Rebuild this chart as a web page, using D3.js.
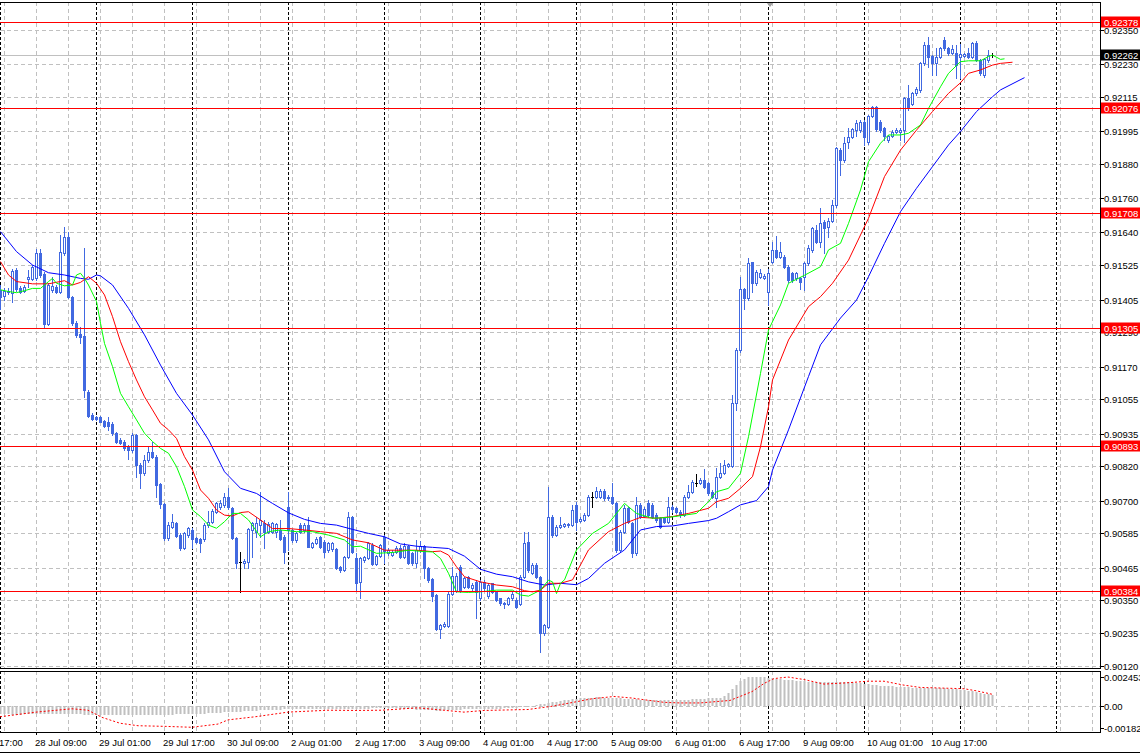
<!DOCTYPE html>
<html><head><meta charset="utf-8">
<script src="https://cdn.jsdelivr.net/npm/d3@7"></script>
<style>
body{margin:0;background:#fff}
svg{display:block}
text{font-family:"Liberation Sans",Arial,sans-serif;font-size:9.5px}
</style>
</head><body>
<svg id="chart" width="1140" height="756"></svg>
<script>
// ---------- DATA (H1 bars, index 0 = 28 Jul 00:00) ----------
const openPrices = [0.91439,0.91418,0.91436,0.91429,0.91509,0.91444,0.91435,0.91476,0.91476,0.91479,0.91569,0.91495,0.91319,0.91439,0.91450,0.91433,0.91567,0.91623,0.91413,0.91322,0.91284,0.91277,0.91082,0.91000,0.90992,0.90994,0.90980,0.90977,0.90969,0.90936,0.90913,0.90907,0.90889,0.90877,0.90930,0.90825,0.90796,0.90842,0.90872,0.90854,0.90758,0.90688,0.90568,0.90609,0.90620,0.90579,0.90533,0.90579,0.90597,0.90568,0.90564,0.90564,0.90614,0.90626,0.90661,0.90676,0.90684,0.90714,0.90673,0.90568,0.90486,0.90482,0.90486,0.90597,0.90591,0.90614,0.90622,0.90591,0.90591,0.90591,0.90597,0.90573,0.90676,0.90597,0.90562,0.90614,0.90597,0.90614,0.90538,0.90552,0.90573,0.90556,0.90526,0.90529,0.90529,0.90466,0.90456,0.90501,0.90643,0.90497,0.90415,0.90491,0.90497,0.90544,0.90476,0.90505,0.90573,0.90515,0.90509,0.90521,0.90532,0.90501,0.90540,0.90517,0.90482,0.90526,0.90540,0.90464,0.90424,0.90369,0.90248,0.90260,0.90260,0.90372,0.90384,0.90468,0.90398,0.90431,0.90392,0.90415,0.90357,0.90415,0.90365,0.90410,0.90380,0.90357,0.90339,0.90337,0.90357,0.90351,0.90339,0.90433,0.90556,0.90447,0.90474,0.90433,0.90234,0.90258,0.90643,0.90579,0.90609,0.90611,0.90613,0.90614,0.90685,0.90628,0.90632,0.90650,0.90714,0.90714,0.90714,0.90735,0.90714,0.90714,0.90693,0.90527,0.90591,0.90673,0.90620,0.90515,0.90685,0.90646,0.90690,0.90685,0.90650,0.90638,0.90638,0.90626,0.90679,0.90673,0.90661,0.90650,0.90714,0.90731,0.90763,0.90763,0.90772,0.90761,0.90731,0.90708,0.90782,0.90798,0.90821,0.90821,0.91041,0.91228,0.91441,0.91409,0.91536,0.91462,0.91483,0.91479,0.91433,0.91538,0.91577,0.91555,0.91555,0.91520,0.91499,0.91479,0.91479,0.91485,0.91532,0.91579,0.91649,0.91608,0.91678,0.91660,0.91682,0.91736,0.91929,0.91894,0.91958,0.91974,0.91999,0.91999,0.92029,0.91958,0.92048,0.92079,0.92029,0.92005,0.91964,0.91978,0.91994,0.91994,0.91999,0.92110,0.92091,0.92128,0.92140,0.92233,0.92297,0.92259,0.92233,0.92257,0.92315,0.92286,0.92271,0.92271,0.92257,0.92259,0.92268,0.92257,0.92306,0.92245,0.92192,0.92245,0.92262];
const highPrices = [0.91456,0.91444,0.91444,0.91511,0.91514,0.91453,0.91456,0.91509,0.91526,0.91581,0.91581,0.91503,0.91462,0.91485,0.91456,0.91631,0.91661,0.91643,0.91418,0.91328,0.91310,0.91585,0.91086,0.91006,0.90997,0.90997,0.90982,0.90994,0.90974,0.90942,0.90919,0.90913,0.90895,0.90936,0.90934,0.90831,0.90860,0.90889,0.90907,0.90860,0.90761,0.90690,0.90626,0.90653,0.90626,0.90585,0.90591,0.90609,0.90603,0.90574,0.90568,0.90620,0.90665,0.90670,0.90696,0.90702,0.90728,0.90743,0.90676,0.90574,0.90521,0.90495,0.90603,0.90626,0.90643,0.90731,0.90632,0.90624,0.90624,0.90622,0.90632,0.90579,0.90731,0.90602,0.90591,0.90620,0.90620,0.90643,0.90556,0.90573,0.90575,0.90562,0.90556,0.90556,0.90532,0.90471,0.90505,0.90661,0.90646,0.90515,0.90501,0.90505,0.90556,0.90550,0.90509,0.90547,0.90579,0.90532,0.90526,0.90540,0.90544,0.90550,0.90544,0.90521,0.90562,0.90559,0.90544,0.90468,0.90427,0.90372,0.90269,0.90275,0.90380,0.90468,0.90445,0.90474,0.90433,0.90435,0.90410,0.90421,0.90421,0.90421,0.90410,0.90412,0.90384,0.90360,0.90345,0.90363,0.90380,0.90357,0.90439,0.90591,0.90591,0.90480,0.90480,0.90435,0.90269,0.90749,0.90649,0.90614,0.90644,0.90623,0.90623,0.90685,0.90696,0.90641,0.90655,0.90720,0.90731,0.90749,0.90739,0.90739,0.90720,0.90761,0.90696,0.90597,0.90685,0.90679,0.90626,0.90714,0.90690,0.90679,0.90702,0.90690,0.90655,0.90644,0.90644,0.90714,0.90685,0.90679,0.90667,0.90720,0.90755,0.90772,0.90793,0.90778,0.90810,0.90766,0.90737,0.90813,0.90831,0.90842,0.90833,0.91070,0.91234,0.91485,0.91444,0.91550,0.91538,0.91509,0.91511,0.91494,0.91511,0.91608,0.91626,0.91608,0.91561,0.91526,0.91503,0.91503,0.91485,0.91538,0.91596,0.91660,0.91666,0.91725,0.91684,0.91690,0.91754,0.91941,0.91935,0.91976,0.92005,0.92005,0.92034,0.92034,0.92034,0.92052,0.92084,0.92084,0.92034,0.92011,0.91982,0.92000,0.92005,0.92005,0.92116,0.92157,0.92134,0.92151,0.92239,0.92309,0.92327,0.92262,0.92286,0.92292,0.92327,0.92292,0.92297,0.92297,0.92301,0.92271,0.92286,0.92309,0.92313,0.92247,0.92251,0.92280,0.92268];
const lowPrices = [0.91371,0.91403,0.91425,0.91398,0.91436,0.91427,0.91433,0.91450,0.91474,0.91474,0.91485,0.91304,0.91316,0.91433,0.91427,0.91427,0.91561,0.91409,0.91316,0.91275,0.91251,0.91064,0.90992,0.90982,0.90982,0.90974,0.90959,0.90948,0.90930,0.90903,0.90898,0.90877,0.90845,0.90872,0.90784,0.90743,0.90790,0.90836,0.90848,0.90714,0.90673,0.90562,0.90562,0.90603,0.90571,0.90527,0.90530,0.90574,0.90533,0.90550,0.90521,0.90560,0.90609,0.90620,0.90655,0.90669,0.90678,0.90672,0.90564,0.90462,0.90381,0.90462,0.90462,0.90503,0.90573,0.90573,0.90532,0.90585,0.90585,0.90573,0.90562,0.90480,0.90526,0.90556,0.90556,0.90585,0.90591,0.90536,0.90535,0.90547,0.90532,0.90503,0.90521,0.90523,0.90459,0.90450,0.90453,0.90497,0.90517,0.90386,0.90360,0.90486,0.90494,0.90474,0.90473,0.90503,0.90480,0.90509,0.90505,0.90515,0.90497,0.90497,0.90477,0.90474,0.90466,0.90521,0.90427,0.90415,0.90349,0.90246,0.90217,0.90255,0.90255,0.90369,0.90380,0.90380,0.90392,0.90392,0.90386,0.90287,0.90351,0.90386,0.90360,0.90377,0.90349,0.90334,0.90325,0.90334,0.90353,0.90325,0.90334,0.90427,0.90450,0.90442,0.90427,0.90170,0.90228,0.90252,0.90573,0.90576,0.90603,0.90606,0.90609,0.90611,0.90597,0.90625,0.90628,0.90646,0.90679,0.90708,0.90708,0.90702,0.90702,0.90688,0.90521,0.90521,0.90585,0.90620,0.90503,0.90509,0.90638,0.90641,0.90644,0.90638,0.90626,0.90603,0.90620,0.90620,0.90661,0.90655,0.90644,0.90646,0.90708,0.90725,0.90751,0.90758,0.90743,0.90720,0.90708,0.90679,0.90778,0.90793,0.90816,0.90816,0.91018,0.91222,0.91371,0.91403,0.91433,0.91456,0.91479,0.91476,0.91386,0.91532,0.91550,0.91550,0.91515,0.91468,0.91468,0.91474,0.91441,0.91438,0.91526,0.91573,0.91602,0.91590,0.91567,0.91625,0.91678,0.91730,0.91842,0.91888,0.91935,0.91970,0.91978,0.91994,0.91947,0.91952,0.92044,0.91997,0.91994,0.91964,0.91958,0.91974,0.91988,0.91964,0.91958,0.92069,0.92087,0.92122,0.92134,0.92227,0.92221,0.92192,0.92192,0.92251,0.92280,0.92262,0.92266,0.92181,0.92181,0.92254,0.92251,0.92251,0.92243,0.92192,0.92186,0.92239,0.92257];
const closePrices = [0.91415,0.91435,0.91430,0.91506,0.91441,0.91433,0.91450,0.91483,0.91520,0.91569,0.91491,0.91319,0.91456,0.91453,0.91433,0.91571,0.91623,0.91413,0.91322,0.91281,0.91275,0.91086,0.90997,0.90985,0.90987,0.90977,0.90963,0.90962,0.90936,0.90907,0.90903,0.90886,0.90877,0.90930,0.90825,0.90796,0.90842,0.90872,0.90852,0.90755,0.90688,0.90568,0.90614,0.90624,0.90576,0.90533,0.90585,0.90603,0.90564,0.90556,0.90552,0.90614,0.90626,0.90665,0.90690,0.90693,0.90714,0.90676,0.90568,0.90480,0.90486,0.90489,0.90599,0.90620,0.90620,0.90632,0.90591,0.90618,0.90620,0.90618,0.90567,0.90521,0.90597,0.90562,0.90585,0.90591,0.90614,0.90538,0.90552,0.90567,0.90538,0.90521,0.90550,0.90552,0.90462,0.90456,0.90501,0.90643,0.90521,0.90412,0.90497,0.90501,0.90552,0.90476,0.90505,0.90544,0.90523,0.90526,0.90521,0.90535,0.90501,0.90540,0.90482,0.90480,0.90526,0.90540,0.90462,0.90421,0.90365,0.90248,0.90263,0.90269,0.90372,0.90435,0.90435,0.90384,0.90427,0.90398,0.90404,0.90380,0.90415,0.90392,0.90404,0.90380,0.90353,0.90342,0.90341,0.90357,0.90374,0.90328,0.90433,0.90552,0.90456,0.90474,0.90433,0.90234,0.90263,0.90643,0.90579,0.90606,0.90614,0.90618,0.90618,0.90667,0.90626,0.90634,0.90650,0.90714,0.90714,0.90735,0.90735,0.90708,0.90708,0.90693,0.90527,0.90591,0.90673,0.90626,0.90515,0.90685,0.90644,0.90669,0.90650,0.90644,0.90632,0.90609,0.90626,0.90679,0.90669,0.90661,0.90650,0.90714,0.90731,0.90766,0.90763,0.90772,0.90749,0.90725,0.90714,0.90784,0.90798,0.90825,0.90827,0.91041,0.91228,0.91441,0.91409,0.91532,0.91462,0.91503,0.91499,0.91488,0.91497,0.91579,0.91555,0.91573,0.91520,0.91474,0.91474,0.91497,0.91468,0.91532,0.91585,0.91655,0.91608,0.91672,0.91655,0.91682,0.91736,0.91935,0.91894,0.91955,0.91974,0.92002,0.92025,0.92029,0.91976,0.92048,0.92079,0.92002,0.91999,0.91978,0.91978,0.91994,0.91999,0.91999,0.92110,0.92075,0.92128,0.92142,0.92235,0.92297,0.92257,0.92233,0.92257,0.92286,0.92286,0.92268,0.92282,0.92227,0.92266,0.92266,0.92257,0.92303,0.92245,0.92198,0.92247,0.92262,0.92262];

// Alligator lines: [bar index, price]
const jawLine = [[0,0.91643],[4,0.91573],[8,0.91526],[12,0.91499],[16,0.91491],[20,0.91479],[22,0.91476],[24,0.91491],[25,0.91488],[28,0.91456],[32,0.91374],[36,0.91281],[40,0.91175],[44,0.91076],[48,0.91000],[52,0.90913],[56,0.90801],[60,0.90743],[64,0.90725],[68,0.90690],[72,0.90657],[76,0.90634],[80,0.90620],[84,0.90614],[88,0.90599],[92,0.90585],[96,0.90573],[100,0.90548],[104,0.90540],[108,0.90536],[112,0.90532],[116,0.90505],[120,0.90459],[124,0.90442],[128,0.90433],[132,0.90415],[136,0.90404],[140,0.90410],[144,0.90405],[147,0.90427],[151,0.90480],[156,0.90527],[160,0.90597],[164,0.90609],[168,0.90611],[172,0.90620],[177,0.90630],[179,0.90638],[182,0.90661],[185,0.90685],[189,0.90700],[192,0.90749],[193,0.90807],[197,0.90948],[202,0.91135],[205,0.91246],[210,0.91340],[214,0.91403],[217,0.91485],[221,0.91602],[225,0.91713],[229,0.91795],[233,0.91871],[237,0.91947],[240,0.91994],[244,0.92064],[248,0.92116],[250,0.92140],[256,0.92183]];
const teethLine = [[0,0.91538],[2,0.91491],[4,0.91468],[8,0.91460],[12,0.91460],[16,0.91471],[18,0.91456],[20,0.91465],[22,0.91485],[24,0.91462],[26,0.91421],[28,0.91345],[30,0.91257],[32,0.91187],[34,0.91123],[36,0.91064],[38,0.91018],[40,0.90971],[42,0.90948],[44,0.90918],[46,0.90854],[48,0.90807],[50,0.90737],[52,0.90708],[54,0.90667],[56,0.90649],[58,0.90646],[60,0.90658],[62,0.90661],[65,0.90632],[68,0.90602],[72,0.90602],[76,0.90597],[80,0.90591],[84,0.90585],[88,0.90562],[92,0.90552],[96,0.90526],[100,0.90526],[104,0.90526],[108,0.90521],[110,0.90523],[112,0.90509],[114,0.90468],[116,0.90433],[120,0.90415],[124,0.90404],[128,0.90398],[131,0.90384],[133,0.90380],[135,0.90386],[137,0.90410],[140,0.90410],[143,0.90422],[147,0.90527],[152,0.90591],[156,0.90620],[160,0.90641],[164,0.90638],[168,0.90644],[172,0.90655],[177,0.90673],[179,0.90696],[182,0.90708],[185,0.90743],[188,0.90784],[190,0.90889],[192,0.91029],[193,0.91123],[197,0.91263],[202,0.91380],[205,0.91415],[208,0.91462],[212,0.91543],[217,0.91690],[221,0.91836],[225,0.91929],[229,0.91999],[233,0.92064],[237,0.92128],[240,0.92165],[242,0.92198],[245,0.92210],[248,0.92227],[250,0.92233],[253,0.92237]];
const lipsLine = [[0,0.91439],[2,0.91433],[4,0.91429],[6,0.91436],[8,0.91444],[10,0.91444],[12,0.91468],[13,0.91479],[14,0.91462],[16,0.91453],[18,0.91456],[19,0.91491],[20,0.91497],[21,0.91479],[22,0.91456],[24,0.91398],[25,0.91322],[26,0.91251],[28,0.91170],[30,0.91076],[32,0.91029],[34,0.90983],[36,0.90936],[38,0.90907],[40,0.90883],[42,0.90866],[44,0.90819],[46,0.90749],[48,0.90667],[50,0.90644],[52,0.90614],[54,0.90603],[56,0.90626],[58,0.90655],[60,0.90655],[62,0.90632],[65,0.90573],[67,0.90591],[70,0.90597],[74,0.90591],[78,0.90591],[82,0.90579],[86,0.90562],[88,0.90538],[90,0.90540],[94,0.90515],[98,0.90518],[102,0.90526],[106,0.90521],[108,0.90520],[110,0.90497],[112,0.90445],[114,0.90380],[117,0.90378],[120,0.90380],[124,0.90386],[128,0.90386],[130,0.90369],[132,0.90365],[135,0.90386],[137,0.90421],[138,0.90415],[139,0.90374],[140,0.90410],[141,0.90422],[144,0.90527],[148,0.90585],[152,0.90620],[156,0.90690],[159,0.90655],[163,0.90638],[167,0.90641],[171,0.90649],[174,0.90655],[177,0.90696],[179,0.90731],[182,0.90743],[185,0.90796],[187,0.90924],[190,0.91146],[192,0.91298],[195,0.91386],[197,0.91462],[201,0.91490],[205,0.91520],[207,0.91579],[210,0.91602],[212,0.91672],[215,0.91789],[217,0.91888],[220,0.91953],[222,0.91982],[225,0.91982],[227,0.91988],[230,0.92017],[232,0.92075],[235,0.92151],[237,0.92198],[240,0.92239],[242,0.92242],[245,0.92242],[247,0.92257],[248,0.92262],[250,0.92247],[251,0.92249]];

// MACD sub-window (histogram per bar, signal as [bar, value])
const macdMain = [-0.00065,-0.00066,-0.00068,-0.0007,-0.0007,-0.00069,-0.00068,-0.00068,-0.00067,-0.00066,-0.00065,-0.00064,-0.00064,-0.00063,-0.00063,-0.00062,-0.00062,-0.00063,-0.00064,-0.00066,
-0.00068,-0.0007,-0.00072,-0.00073,-0.00074,-0.00075,-0.00075,-0.00075,-0.00074,-0.00074,-0.00073,-0.00073,-0.00072,-0.00072,-0.00072,-0.00071,-0.00071,-0.0007,-0.0007,-0.0007,
-0.0007,-0.0007,-0.00069,-0.00069,-0.00068,-0.00068,-0.00067,-0.00066,-0.00065,-0.00064,-0.00063,-0.00062,-0.0006,-0.00058,-0.00056,-0.00054,-0.00052,-0.0005,-0.00048,-0.00046,
-0.00044,-0.00042,-0.0004,-0.00038,-0.00036,-0.00034,-0.00032,-0.0003,-0.00029,-0.00028,-0.00027,-0.00026,-0.00026,-0.00025,-0.00025,-0.00025,-0.00025,-0.00025,-0.00025,-0.00025,
-0.00024,-0.00024,-0.00024,-0.00024,-0.00024,-0.00023,-0.00023,-0.00023,-0.00022,-0.00022,-0.00021,-0.0002,-0.00019,-0.00018,-0.00017,-0.00016,-0.00016,-0.00016,-0.00017,-0.00018,
-0.0002,-0.00022,-0.00024,-0.00026,-0.00028,-0.0003,-0.00032,-0.00034,-0.00035,-0.00036,-0.00036,-0.00035,-0.00034,-0.00032,-0.0003,-0.00028,-0.00026,-0.00025,-0.00024,-0.00023,
-0.00022,-0.00021,-0.0002,-0.0002,-0.0002,-0.00019,-0.00018,-0.00017,-0.00016,-0.00014,-0.0001,-0.00005,0,0.00005,0.0001,0.00015,0.0002,0.00026,0.00032,0.00038,
0.00044,0.0005,0.00055,0.0006,0.00064,0.00068,0.0007,0.00072,0.00073,0.00074,0.00074,0.00073,0.00072,0.0007,0.00068,0.00066,0.00064,0.00062,0.0006,0.00058,
0.00056,0.00055,0.00054,0.00053,0.00052,0.00052,0.00052,0.00052,0.00052,0.00053,0.00054,0.00055,0.00056,0.00058,0.0006,0.00062,0.00064,0.00066,0.00068,0.0007,
0.0007,0.00085,0.0011,0.00145,0.0018,0.0021,0.00232,0.00245,0.00248,0.00248,0.00246,0.00243,0.0024,0.00236,0.00232,0.00228,0.00224,0.0022,0.00216,0.00212,
0.0021,0.00208,0.00206,0.00205,0.00205,0.00205,0.00205,0.00205,0.00206,0.00206,0.00206,0.00205,0.00203,0.002,0.00198,0.00195,0.0019,0.00185,0.0018,0.00177,
0.00174,0.0017,0.00168,0.00166,0.00164,0.00162,0.0016,0.00158,0.00156,0.00155,0.00154,0.00153,0.00152,0.00151,0.0015,0.0015,0.00149,0.00148,0.00146,0.00144,
0.0014,0.00135,0.0013,0.00125,0.00118,0.0011,0.00105,0.001,0.00095];
const macdSignal = [[0,-0.00088],[9,-0.00049],[18,-0.00021],[22,-0.00033],[25.5,-0.00093],[30,-0.00142],[34.5,-0.00163],[41,-0.00168],[48,-0.00176],[54.5,-0.00149],[57,-0.00114],[64,-0.00087],[72,-0.00049],[82,-0.00033],[89,-0.00035],[95.5,-0.00033],[104.5,-0.00013],[109,-0.00027],[116,-0.00049],[121,-0.00035],[132,-0.00027],[138,0],[142.5,0.00028],[148,0.00063],[153.5,0.00082],[158,0.00069],[161,0.00055],[166,0.00033],[170,0.00028],[175,0.00028],[182.5,0.00049],[185,0.00082],[188,0.00123],[191,0.00191],[193.5,0.00232],[197,0.00245],[201,0.00224],[206,0.00186],[211.5,0.00196],[217,0.0021],[221,0.0021],[226,0.00177],[230,0.00158],[238,0.0015],[241,0.00147],[244,0.0013],[248,0.00101]];

const levelLines = [0.92378, 0.92076, 0.91708, 0.91305, 0.90893, 0.90384];
const currentPrice = 0.92262;
const priceTicks = [0.92350,0.92230,0.92115,0.91995,0.91880,0.91760,0.91640,0.91525,0.91405,0.91290,0.91170,0.91055,0.90935,0.90820,0.90700,0.90585,0.90465,0.90350,0.90235,0.90120];
const subTicks = [0.002453, 0, -0.00182];
const subTickLabels = ["0.002453", "0.00", "-0.00182"];
const timeLabels = ["27 Jul 17:00","28 Jul 09:00","29 Jul 01:00","29 Jul 17:00","30 Jul 09:00","2 Aug 01:00","2 Aug 17:00","3 Aug 09:00","4 Aug 01:00","4 Aug 17:00","5 Aug 09:00","6 Aug 01:00","6 Aug 17:00","9 Aug 09:00","10 Aug 01:00","10 Aug 17:00"];
const timeLabelBars = [-7,9,25,41,57,73,89,105,121,137,153,169,185,201,217,233];
const daySeparatorBars = [0,24,48,72,96,120,144,168,192,216,240,264];

// ---------- LAYOUT ----------
const W = 1100;
const mainTop = 2, mainBottom = 668;
const subTop = 671, subBottom = 732;
const svg = d3.select("#chart");

const x = d3.scaleLinear().domain([0, 275]).range([0, 1100]);
const y = d3.scaleLinear().domain([0.90120, 0.92350]).range([666, 30]);
const ys = d3.scaleLinear().domain([-0.00182, 0.002453]).range([728, 677]);
const px = i => Math.round(x(i)) + 0.5;
const py = v => Math.round(y(v)) + 0.5;

svg.append("rect").attr("width",1140).attr("height",756).attr("fill","#fff");

const defs = svg.append("defs");
defs.append("clipPath").attr("id","clipMain").append("rect").attr("x",0).attr("y",mainTop).attr("width",W).attr("height",mainBottom-mainTop);
defs.append("clipPath").attr("id","clipSub").append("rect").attr("x",0).attr("y",subTop).attr("width",W).attr("height",subBottom-subTop);

const gMain = svg.append("g").attr("clip-path","url(#clipMain)");
const gSub = svg.append("g").attr("clip-path","url(#clipSub)");

const gridColor = "#c0c0c0";
const vGrid = d3.range(1, 275, 8);
[[gMain, mainTop, mainBottom],[gSub, subTop, subBottom]].forEach(([g, t, b]) => {
  g.selectAll(null).data(vGrid).enter().append("line")
    .attr("x1", d => px(d)).attr("x2", d => px(d)).attr("y1", t).attr("y2", b)
    .attr("stroke", gridColor).attr("stroke-dasharray","4,3");
});
gMain.selectAll(null).data(priceTicks).enter().append("line")
  .attr("x1",0).attr("x2",W).attr("y1",d=>py(d)).attr("y2",d=>py(d))
  .attr("stroke",gridColor).attr("stroke-dasharray","4,3");
gSub.append("line").attr("x1",0).attr("x2",W).attr("y1",Math.round(ys(0))+0.5).attr("y2",Math.round(ys(0))+0.5)
  .attr("stroke",gridColor).attr("stroke-dasharray","4,3");
[[gMain, mainTop, mainBottom],[gSub, subTop, subBottom]].forEach(([g, t, b]) => {
  g.selectAll(null).data(daySeparatorBars).enter().append("line")
    .attr("x1", d => px(d)).attr("x2", d => px(d)).attr("y1", t).attr("y2", b)
    .attr("stroke", "#000").attr("stroke-dasharray","3,2");
});

gMain.append("line").attr("x1",0).attr("x2",W).attr("y1",py(currentPrice)).attr("y2",py(currentPrice))
  .attr("stroke","#c0c0c0");

// candles
const candleColor = "#4169e1";
const bars = openPrices.map((o,i)=>({i, o, h:highPrices[i], l:lowPrices[i], c:closePrices[i]}));
const gC = gMain.append("g");
bars.forEach(d => {
  const cx = px(d.i);
  const doji = d.o === d.c;
  const col = doji ? "#000" : candleColor;
  gC.append("line").attr("x1",cx).attr("x2",cx).attr("y1",Math.round(y(d.h))).attr("y2",Math.round(y(d.l))+1)
    .attr("stroke",col);
  if (doji) {
    gC.append("line").attr("x1",cx-1.5).attr("x2",cx+1.5).attr("y1",py(d.o)).attr("y2",py(d.o)).attr("stroke","#000");
  } else if (d.c > d.o) {
    const top = Math.round(y(d.c)), bot = Math.round(y(d.o));
    gC.append("rect").attr("x",cx-1).attr("y",top+0.5).attr("width",2).attr("height",Math.max(1,bot-top))
      .attr("fill","#fff").attr("stroke",candleColor);
  } else {
    const top = Math.round(y(d.o)), bot = Math.round(y(d.c));
    gC.append("rect").attr("x",cx-1.5).attr("y",top).attr("width",3).attr("height",Math.max(1,bot-top+1))
      .attr("fill",candleColor);
  }
});

// alligator lines
const lineGen = d3.line().x(d => x(d[0]) + 0.5).y(d => y(d[1]));
[[jawLine,"#0000ff"],[teethLine,"#ff0000"],[lipsLine,"#00ff00"]].forEach(([data,col]) => {
  gMain.append("path").attr("d", lineGen(data)).attr("fill","none").attr("stroke",col).attr("stroke-width",1);
});

// level lines
gMain.selectAll(null).data(levelLines).enter().append("line")
  .attr("x1",0).attr("x2",W).attr("y1",d=>py(d)).attr("y2",d=>py(d)).attr("stroke","#ff0000");

// shift marker
svg.append("path").attr("d","M766,2 L774,2 L770,7 Z").attr("fill","#a0a0a0");

// MACD histogram + signal
const z0 = Math.round(ys(0));
gSub.selectAll(null).data(macdMain).enter().append("rect")
  .attr("x",(d,i)=>Math.round(x(i))-0.5).attr("width",2)
  .attr("y",d=> d>=0 ? Math.round(ys(d)) : z0)
  .attr("height",d=> Math.max(1, Math.abs(Math.round(ys(d)) - z0)))
  .attr("fill","#c0c0c0");
const sigGen = d3.line().x(d => x(d[0])).y(d => ys(d[1]));
gSub.append("path").attr("d",sigGen(macdSignal)).attr("fill","none").attr("stroke","#ff0000")
  .attr("stroke-dasharray","2,2");

// frames
svg.append("rect").attr("x",-1).attr("y",mainTop+0.5).attr("width",W+1.5).attr("height",mainBottom-mainTop)
  .attr("fill","none").attr("stroke","#000");
svg.append("rect").attr("x",-1).attr("y",subTop+0.5).attr("width",W+1.5).attr("height",subBottom-subTop)
  .attr("fill","none").attr("stroke","#000");
svg.append("line").attr("x1",0).attr("x2",1140).attr("y1",752.5).attr("y2",752.5).attr("stroke","#000");

// right price axis
const ax = svg.append("g");
priceTicks.forEach(v => {
  ax.append("line").attr("x1",W+1).attr("x2",W+4).attr("y1",py(v)).attr("y2",py(v)).attr("stroke","#000");
  ax.append("text").attr("x",W+4).attr("y",py(v)+3.5).text(d3.format(".5f")(v)).attr("fill","#000");
});
subTicks.forEach((v,k) => {
  const yy = Math.round(ys(v)) + 0.5;
  ax.append("line").attr("x1",W+1).attr("x2",W+4).attr("y1",yy).attr("y2",yy).attr("stroke","#000");
  ax.append("text").attr("x",W+4).attr("y",yy+3.5).text(subTickLabels[k]).attr("fill","#000");
});
levelLines.forEach(v => {
  const yy = py(v);
  ax.append("rect").attr("x",W+1).attr("y",yy-6).attr("width",39).attr("height",11).attr("fill","#ff0000");
  ax.append("text").attr("x",W+4).attr("y",yy+3.5).attr("fill","#fff").text(d3.format(".5f")(v));
});
{
  const yy = py(currentPrice);
  ax.append("rect").attr("x",W+1).attr("y",yy-6).attr("width",39).attr("height",11).attr("fill","#000");
  ax.append("text").attr("x",W+4).attr("y",yy+3.5).attr("fill","#fff").text(d3.format(".5f")(currentPrice));
}

// time axis labels
const tg = svg.append("g");
timeLabels.forEach((t,k) => {
  const xx = x(timeLabelBars[k]) - 1;
  tg.append("text").attr("x",xx).attr("y",746).attr("fill","#000").text(t);
  tg.append("line").attr("x1",Math.round(x(timeLabelBars[k]))+0.5).attr("x2",Math.round(x(timeLabelBars[k]))+0.5)
    .attr("y1",subBottom).attr("y2",subBottom+3).attr("stroke","#000");
});
</script>
</body></html>
